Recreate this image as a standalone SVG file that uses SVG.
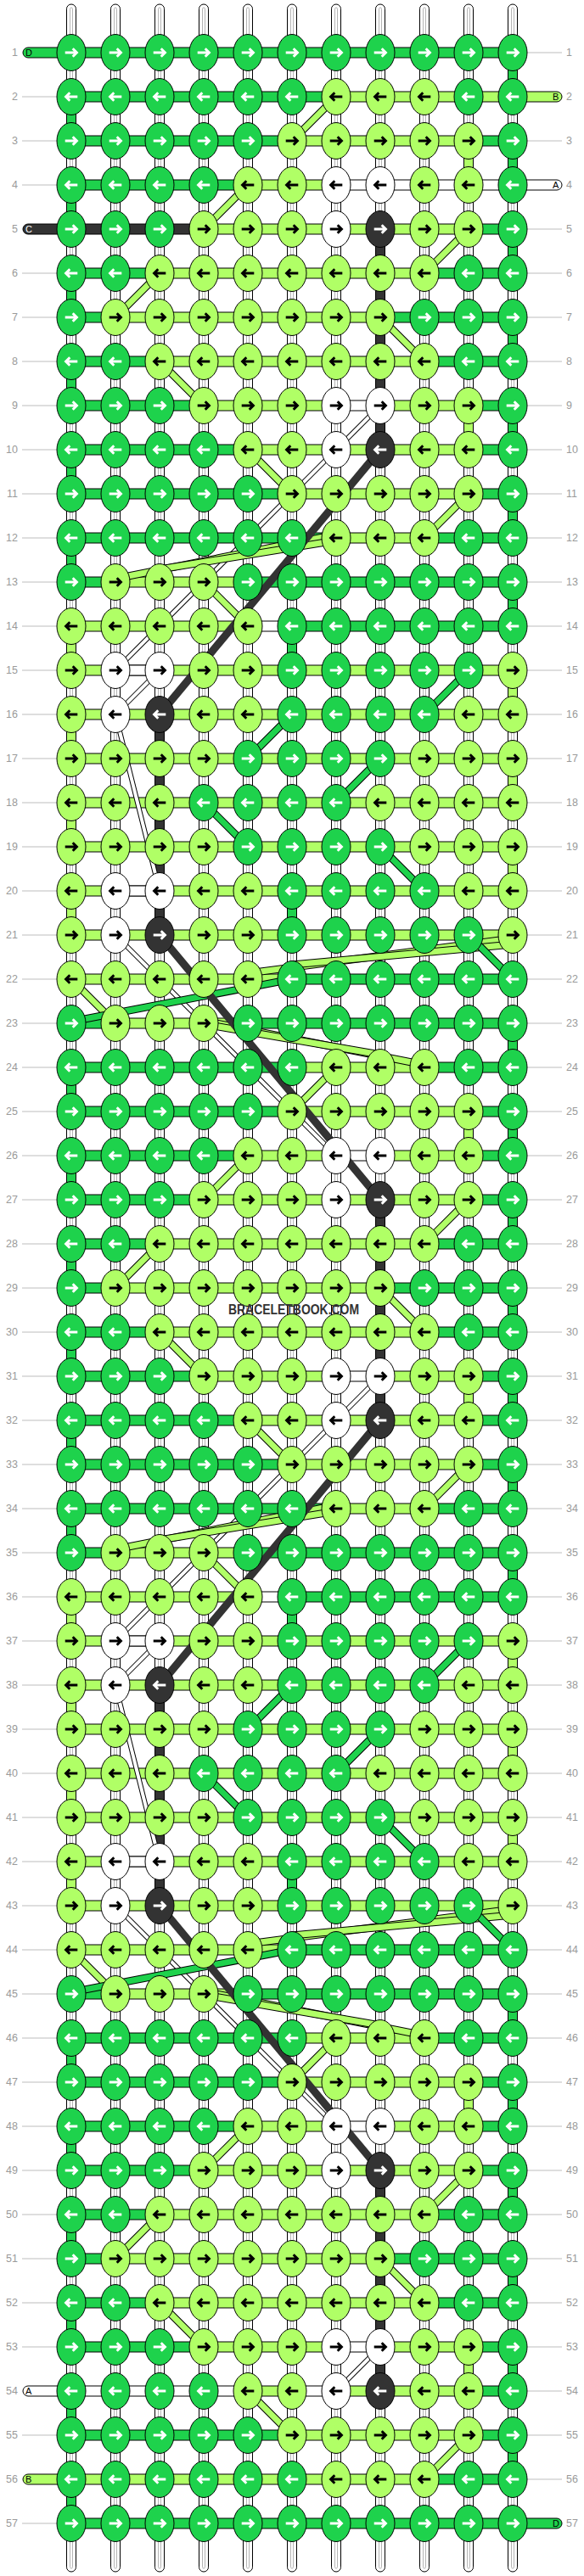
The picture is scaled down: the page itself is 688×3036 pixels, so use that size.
<svg xmlns="http://www.w3.org/2000/svg" width="688" height="3036" viewBox="0 0 688 3036">
<defs>
<style>
.n{font-family:"Liberation Sans",Arial,sans-serif;font-size:12.5px;fill:#9a9a9a}
.e{text-anchor:end}
.lt{font-family:"Liberation Sans",Arial,sans-serif;font-size:11px;fill:#000}
.ln{stroke:#bdbdbd;stroke-width:1;fill:none}
.o{stroke:#000;stroke-width:1}
.D{fill:#1ed24c}.B{fill:#b0ff66}.A{fill:#fff}.C{fill:#333}
.bo{stroke:#000;stroke-width:9;fill:none}
.bB{stroke:#b0ff66;stroke-width:7;fill:none}
.bD{stroke:#1ed24c;stroke-width:7;fill:none}
</style>
<g id="vt"><rect x="-5.5" y="5" width="11" height="3026" rx="5.5" fill="#fff" stroke="#000"/><rect x="-1.5" y="9" width="3" height="3018" rx="1.5" fill="none" stroke="#b4b4b4"/></g>
<g id="DR"><ellipse rx="17" ry="21.5" fill="#1ed24c" stroke="#000"/><path d="M-7.3,0H5.5M1.7,-4.7L6.4,0L1.7,4.7" fill="none" stroke="#fff" stroke-width="3"/></g>
<g id="DL"><ellipse rx="17" ry="21.5" fill="#1ed24c" stroke="#000"/><path d="M7.3,0H-5.5M-1.7,-4.7L-6.4,0L-1.7,4.7" fill="none" stroke="#fff" stroke-width="3"/></g>
<g id="BR"><ellipse rx="17" ry="21.5" fill="#b0ff66" stroke="#000"/><path d="M-7.3,0H5.5M1.7,-4.7L6.4,0L1.7,4.7" fill="none" stroke="#000" stroke-width="3"/></g>
<g id="BL"><ellipse rx="17" ry="21.5" fill="#b0ff66" stroke="#000"/><path d="M7.3,0H-5.5M-1.7,-4.7L-6.4,0L-1.7,4.7" fill="none" stroke="#000" stroke-width="3"/></g>
<g id="AR"><ellipse rx="17" ry="21.5" fill="#fff" stroke="#000"/><path d="M-7.3,0H5.5M1.7,-4.7L6.4,0L1.7,4.7" fill="none" stroke="#000" stroke-width="3"/></g>
<g id="AL"><ellipse rx="17" ry="21.5" fill="#fff" stroke="#000"/><path d="M7.3,0H-5.5M-1.7,-4.7L-6.4,0L-1.7,4.7" fill="none" stroke="#000" stroke-width="3"/></g>
<g id="CR"><ellipse rx="17" ry="21.5" fill="#333" stroke="#000"/><path d="M-7.3,0H5.5M1.7,-4.7L6.4,0L1.7,4.7" fill="none" stroke="#fff" stroke-width="3"/></g>
<g id="CL"><ellipse rx="17" ry="21.5" fill="#333" stroke="#000"/><path d="M7.3,0H-5.5M-1.7,-4.7L-6.4,0L-1.7,4.7" fill="none" stroke="#fff" stroke-width="3"/></g>
</defs>
<rect width="688" height="3036" fill="#fff"/>
<g id="labels">
<path class="ln" d="M26,114H67M26,166H67M26,218H67M26,322H67M26,374H67M26,426H67M26,478H67M26,530H67M26,582H67M26,634H67M26,686H67M26,738H67M26,790H67M26,842H67M26,894H67M26,946H67M26,998H67M26,1050H67M26,1102H67M26,1154H67M26,1206H67M26,1258H67M26,1310H67M26,1362H67M26,1414H67M26,1466H67M26,1518H67M26,1570H67M26,1622H67M26,1674H67M26,1726H67M26,1778H67M26,1830H67M26,1882H67M26,1934H67M26,1986H67M26,2038H67M26,2090H67M26,2142H67M26,2194H67M26,2246H67M26,2298H67M26,2350H67M26,2402H67M26,2454H67M26,2506H67M26,2558H67M26,2610H67M26,2662H67M26,2714H67M26,2766H67M26,2870H67M26,2974H67"/>
<path class="ln" d="M621,62H662M621,166H662M621,270H662M621,322H662M621,374H662M621,426H662M621,478H662M621,530H662M621,582H662M621,634H662M621,686H662M621,738H662M621,790H662M621,842H662M621,894H662M621,946H662M621,998H662M621,1050H662M621,1102H662M621,1154H662M621,1206H662M621,1258H662M621,1310H662M621,1362H662M621,1414H662M621,1466H662M621,1518H662M621,1570H662M621,1622H662M621,1674H662M621,1726H662M621,1778H662M621,1830H662M621,1882H662M621,1934H662M621,1986H662M621,2038H662M621,2090H662M621,2142H662M621,2194H662M621,2246H662M621,2298H662M621,2350H662M621,2402H662M621,2454H662M621,2506H662M621,2558H662M621,2610H662M621,2662H662M621,2714H662M621,2766H662M621,2818H662M621,2870H662M621,2922H662"/>
<text class="n e" x="21" y="66">1</text><text class="n" x="667" y="66">1</text>
<text class="n e" x="21" y="118">2</text><text class="n" x="667" y="118">2</text>
<text class="n e" x="21" y="170">3</text><text class="n" x="667" y="170">3</text>
<text class="n e" x="21" y="222">4</text><text class="n" x="667" y="222">4</text>
<text class="n e" x="21" y="274">5</text><text class="n" x="667" y="274">5</text>
<text class="n e" x="21" y="326">6</text><text class="n" x="667" y="326">6</text>
<text class="n e" x="21" y="378">7</text><text class="n" x="667" y="378">7</text>
<text class="n e" x="21" y="430">8</text><text class="n" x="667" y="430">8</text>
<text class="n e" x="21" y="482">9</text><text class="n" x="667" y="482">9</text>
<text class="n e" x="21" y="534">10</text><text class="n" x="667" y="534">10</text>
<text class="n e" x="21" y="586">11</text><text class="n" x="667" y="586">11</text>
<text class="n e" x="21" y="638">12</text><text class="n" x="667" y="638">12</text>
<text class="n e" x="21" y="690">13</text><text class="n" x="667" y="690">13</text>
<text class="n e" x="21" y="742">14</text><text class="n" x="667" y="742">14</text>
<text class="n e" x="21" y="794">15</text><text class="n" x="667" y="794">15</text>
<text class="n e" x="21" y="846">16</text><text class="n" x="667" y="846">16</text>
<text class="n e" x="21" y="898">17</text><text class="n" x="667" y="898">17</text>
<text class="n e" x="21" y="950">18</text><text class="n" x="667" y="950">18</text>
<text class="n e" x="21" y="1002">19</text><text class="n" x="667" y="1002">19</text>
<text class="n e" x="21" y="1054">20</text><text class="n" x="667" y="1054">20</text>
<text class="n e" x="21" y="1106">21</text><text class="n" x="667" y="1106">21</text>
<text class="n e" x="21" y="1158">22</text><text class="n" x="667" y="1158">22</text>
<text class="n e" x="21" y="1210">23</text><text class="n" x="667" y="1210">23</text>
<text class="n e" x="21" y="1262">24</text><text class="n" x="667" y="1262">24</text>
<text class="n e" x="21" y="1314">25</text><text class="n" x="667" y="1314">25</text>
<text class="n e" x="21" y="1366">26</text><text class="n" x="667" y="1366">26</text>
<text class="n e" x="21" y="1418">27</text><text class="n" x="667" y="1418">27</text>
<text class="n e" x="21" y="1470">28</text><text class="n" x="667" y="1470">28</text>
<text class="n e" x="21" y="1522">29</text><text class="n" x="667" y="1522">29</text>
<text class="n e" x="21" y="1574">30</text><text class="n" x="667" y="1574">30</text>
<text class="n e" x="21" y="1626">31</text><text class="n" x="667" y="1626">31</text>
<text class="n e" x="21" y="1678">32</text><text class="n" x="667" y="1678">32</text>
<text class="n e" x="21" y="1730">33</text><text class="n" x="667" y="1730">33</text>
<text class="n e" x="21" y="1782">34</text><text class="n" x="667" y="1782">34</text>
<text class="n e" x="21" y="1834">35</text><text class="n" x="667" y="1834">35</text>
<text class="n e" x="21" y="1886">36</text><text class="n" x="667" y="1886">36</text>
<text class="n e" x="21" y="1938">37</text><text class="n" x="667" y="1938">37</text>
<text class="n e" x="21" y="1990">38</text><text class="n" x="667" y="1990">38</text>
<text class="n e" x="21" y="2042">39</text><text class="n" x="667" y="2042">39</text>
<text class="n e" x="21" y="2094">40</text><text class="n" x="667" y="2094">40</text>
<text class="n e" x="21" y="2146">41</text><text class="n" x="667" y="2146">41</text>
<text class="n e" x="21" y="2198">42</text><text class="n" x="667" y="2198">42</text>
<text class="n e" x="21" y="2250">43</text><text class="n" x="667" y="2250">43</text>
<text class="n e" x="21" y="2302">44</text><text class="n" x="667" y="2302">44</text>
<text class="n e" x="21" y="2354">45</text><text class="n" x="667" y="2354">45</text>
<text class="n e" x="21" y="2406">46</text><text class="n" x="667" y="2406">46</text>
<text class="n e" x="21" y="2458">47</text><text class="n" x="667" y="2458">47</text>
<text class="n e" x="21" y="2510">48</text><text class="n" x="667" y="2510">48</text>
<text class="n e" x="21" y="2562">49</text><text class="n" x="667" y="2562">49</text>
<text class="n e" x="21" y="2614">50</text><text class="n" x="667" y="2614">50</text>
<text class="n e" x="21" y="2666">51</text><text class="n" x="667" y="2666">51</text>
<text class="n e" x="21" y="2718">52</text><text class="n" x="667" y="2718">52</text>
<text class="n e" x="21" y="2770">53</text><text class="n" x="667" y="2770">53</text>
<text class="n e" x="21" y="2822">54</text><text class="n" x="667" y="2822">54</text>
<text class="n e" x="21" y="2874">55</text><text class="n" x="667" y="2874">55</text>
<text class="n e" x="21" y="2926">56</text><text class="n" x="667" y="2926">56</text>
<text class="n e" x="21" y="2978">57</text><text class="n" x="667" y="2978">57</text>
</g>
<g id="connectors">
<g id="vertical-threads">
<use href="#vt" x="84"/><use href="#vt" x="136"/><use href="#vt" x="188"/><use href="#vt" x="240"/><use href="#vt" x="292"/><use href="#vt" x="344"/><use href="#vt" x="396"/><use href="#vt" x="448"/><use href="#vt" x="500"/><use href="#vt" x="552"/><use href="#vt" x="604"/>
</g>
<g id="row-threads" class="o">
<rect class="D" x="27" y="56" width="577" height="12" rx="6"/>
<rect class="D" x="84" y="108" width="312" height="12"/><rect class="B" x="396" y="108" width="266" height="12" rx="6"/>
<rect class="D" x="84" y="160" width="260" height="12"/><rect class="B" x="344" y="160" width="208" height="12"/><rect class="D" x="552" y="160" width="52" height="12"/>
<rect class="D" x="84" y="212" width="208" height="12"/><rect class="B" x="292" y="212" width="104" height="12"/><rect class="A" x="396" y="212" width="266" height="12" rx="6"/>
<rect class="C" x="27" y="264" width="213" height="12" rx="6"/><rect class="B" x="240" y="264" width="312" height="12"/><rect class="D" x="552" y="264" width="52" height="12"/>
<rect class="D" x="84" y="316" width="104" height="12"/><rect class="B" x="188" y="316" width="312" height="12"/><rect class="D" x="500" y="316" width="104" height="12"/>
<rect class="D" x="84" y="368" width="52" height="12"/><rect class="B" x="136" y="368" width="312" height="12"/><rect class="D" x="448" y="368" width="156" height="12"/>
<rect class="D" x="84" y="420" width="104" height="12"/><rect class="B" x="188" y="420" width="312" height="12"/><rect class="D" x="500" y="420" width="104" height="12"/>
<rect class="D" x="84" y="472" width="156" height="12"/><rect class="B" x="240" y="472" width="156" height="12"/><rect class="A" x="396" y="472" width="52" height="12"/><rect class="B" x="448" y="472" width="104" height="12"/><rect class="D" x="552" y="472" width="52" height="12"/>
<rect class="D" x="84" y="524" width="208" height="12"/><rect class="B" x="292" y="524" width="260" height="12"/><rect class="D" x="552" y="524" width="52" height="12"/>
<rect class="D" x="84" y="576" width="260" height="12"/><rect class="B" x="344" y="576" width="208" height="12"/><rect class="D" x="552" y="576" width="52" height="12"/>
<rect class="D" x="84" y="628" width="312" height="12"/><rect class="B" x="396" y="628" width="104" height="12"/><rect class="D" x="500" y="628" width="104" height="12"/>
<rect class="D" x="84" y="680" width="52" height="12"/><rect class="B" x="136" y="680" width="156" height="12"/><rect class="D" x="292" y="680" width="312" height="12"/>
<rect class="B" x="84" y="732" width="208" height="12"/><rect class="A" x="292" y="732" width="52" height="12"/><rect class="D" x="344" y="732" width="260" height="12"/>
<rect class="B" x="84" y="784" width="520" height="12"/><rect class="A" x="136" y="784" width="52" height="12"/>
<rect class="B" x="84" y="836" width="520" height="12"/>
<rect class="B" x="84" y="888" width="520" height="12"/>
<rect class="B" x="84" y="940" width="520" height="12"/>
<rect class="B" x="84" y="992" width="520" height="12"/>
<rect class="B" x="84" y="1044" width="520" height="12"/><rect class="A" x="136" y="1044" width="52" height="12"/>
<rect class="B" x="84" y="1096" width="520" height="12"/>
<rect class="B" x="84" y="1148" width="260" height="12"/><rect class="D" x="344" y="1148" width="260" height="12"/>
<rect class="D" x="84" y="1200" width="52" height="12"/><rect class="B" x="136" y="1200" width="156" height="12"/><rect class="D" x="292" y="1200" width="312" height="12"/>
<rect class="D" x="84" y="1252" width="260" height="12"/><rect class="B" x="344" y="1252" width="156" height="12"/><rect class="D" x="500" y="1252" width="104" height="12"/>
<rect class="D" x="84" y="1304" width="260" height="12"/><rect class="B" x="344" y="1304" width="208" height="12"/><rect class="D" x="552" y="1304" width="52" height="12"/>
<rect class="D" x="84" y="1356" width="208" height="12"/><rect class="B" x="292" y="1356" width="104" height="12"/><rect class="A" x="396" y="1356" width="52" height="12"/><rect class="B" x="448" y="1356" width="104" height="12"/><rect class="D" x="552" y="1356" width="52" height="12"/>
<rect class="D" x="84" y="1408" width="156" height="12"/><rect class="B" x="240" y="1408" width="312" height="12"/><rect class="D" x="552" y="1408" width="52" height="12"/>
<rect class="D" x="84" y="1460" width="104" height="12"/><rect class="B" x="188" y="1460" width="312" height="12"/><rect class="D" x="500" y="1460" width="104" height="12"/>
<rect class="D" x="84" y="1512" width="52" height="12"/><rect class="B" x="136" y="1512" width="312" height="12"/><rect class="D" x="448" y="1512" width="156" height="12"/>
<rect class="D" x="84" y="1564" width="104" height="12"/><rect class="B" x="188" y="1564" width="312" height="12"/><rect class="D" x="500" y="1564" width="104" height="12"/>
<rect class="D" x="84" y="1616" width="156" height="12"/><rect class="B" x="240" y="1616" width="156" height="12"/><rect class="A" x="396" y="1616" width="52" height="12"/><rect class="B" x="448" y="1616" width="104" height="12"/><rect class="D" x="552" y="1616" width="52" height="12"/>
<rect class="D" x="84" y="1668" width="208" height="12"/><rect class="B" x="292" y="1668" width="260" height="12"/><rect class="D" x="552" y="1668" width="52" height="12"/>
<rect class="D" x="84" y="1720" width="260" height="12"/><rect class="B" x="344" y="1720" width="208" height="12"/><rect class="D" x="552" y="1720" width="52" height="12"/>
<rect class="D" x="84" y="1772" width="312" height="12"/><rect class="B" x="396" y="1772" width="104" height="12"/><rect class="D" x="500" y="1772" width="104" height="12"/>
<rect class="D" x="84" y="1824" width="52" height="12"/><rect class="B" x="136" y="1824" width="156" height="12"/><rect class="D" x="292" y="1824" width="312" height="12"/>
<rect class="B" x="84" y="1876" width="208" height="12"/><rect class="A" x="292" y="1876" width="52" height="12"/><rect class="D" x="344" y="1876" width="260" height="12"/>
<rect class="B" x="84" y="1928" width="520" height="12"/><rect class="A" x="136" y="1928" width="52" height="12"/>
<rect class="B" x="84" y="1980" width="520" height="12"/>
<rect class="B" x="84" y="2032" width="520" height="12"/>
<rect class="B" x="84" y="2084" width="520" height="12"/>
<rect class="B" x="84" y="2136" width="520" height="12"/>
<rect class="B" x="84" y="2188" width="520" height="12"/><rect class="A" x="136" y="2188" width="52" height="12"/>
<rect class="B" x="84" y="2240" width="520" height="12"/>
<rect class="B" x="84" y="2292" width="260" height="12"/><rect class="D" x="344" y="2292" width="260" height="12"/>
<rect class="D" x="84" y="2344" width="52" height="12"/><rect class="B" x="136" y="2344" width="156" height="12"/><rect class="D" x="292" y="2344" width="312" height="12"/>
<rect class="D" x="84" y="2396" width="260" height="12"/><rect class="B" x="344" y="2396" width="156" height="12"/><rect class="D" x="500" y="2396" width="104" height="12"/>
<rect class="D" x="84" y="2448" width="260" height="12"/><rect class="B" x="344" y="2448" width="208" height="12"/><rect class="D" x="552" y="2448" width="52" height="12"/>
<rect class="D" x="84" y="2500" width="208" height="12"/><rect class="B" x="292" y="2500" width="104" height="12"/><rect class="A" x="396" y="2500" width="52" height="12"/><rect class="B" x="448" y="2500" width="104" height="12"/><rect class="D" x="552" y="2500" width="52" height="12"/>
<rect class="D" x="84" y="2552" width="156" height="12"/><rect class="B" x="240" y="2552" width="312" height="12"/><rect class="D" x="552" y="2552" width="52" height="12"/>
<rect class="D" x="84" y="2604" width="104" height="12"/><rect class="B" x="188" y="2604" width="312" height="12"/><rect class="D" x="500" y="2604" width="104" height="12"/>
<rect class="D" x="84" y="2656" width="52" height="12"/><rect class="B" x="136" y="2656" width="312" height="12"/><rect class="D" x="448" y="2656" width="156" height="12"/>
<rect class="D" x="84" y="2708" width="104" height="12"/><rect class="B" x="188" y="2708" width="312" height="12"/><rect class="D" x="500" y="2708" width="104" height="12"/>
<rect class="D" x="84" y="2760" width="156" height="12"/><rect class="B" x="240" y="2760" width="156" height="12"/><rect class="A" x="396" y="2760" width="52" height="12"/><rect class="B" x="448" y="2760" width="104" height="12"/><rect class="D" x="552" y="2760" width="52" height="12"/>
<rect class="A" x="27" y="2812" width="265" height="12" rx="6"/><rect class="B" x="292" y="2812" width="52" height="12"/><rect class="A" x="344" y="2812" width="52" height="12"/><rect class="B" x="396" y="2812" width="156" height="12"/><rect class="D" x="552" y="2812" width="52" height="12"/>
<rect class="D" x="84" y="2864" width="260" height="12"/><rect class="B" x="344" y="2864" width="208" height="12"/><rect class="D" x="552" y="2864" width="52" height="12"/>
<rect class="B" x="27" y="2916" width="473" height="12" rx="6"/><rect class="D" x="500" y="2916" width="104" height="12"/>
<rect class="D" x="84" y="2968" width="578" height="12" rx="6"/>
</g>
<g id="stub-letters">
<text class="lt" x="30" y="66">D</text>
<text class="lt" x="651" y="118">B</text>
<text class="lt" x="651" y="222">A</text>
<text class="lt" x="30" y="274" style="fill:#fff">C</text>
<text class="lt" x="30" y="2822">A</text>
<text class="lt" x="30" y="2926">B</text>
<text class="lt" x="651" y="2978">D</text>
</g>
<g id="turns" class="o">
<path class="D" d="M598.5,62h11v52h-11zM598.5,166h11v52h-11zM598.5,270h11v52h-11zM598.5,374h11v52h-11zM598.5,478h11v52h-11zM598.5,582h11v52h-11zM598.5,686h11v52h-11zM598.5,1206h11v52h-11zM598.5,1310h11v52h-11zM598.5,1414h11v52h-11zM598.5,1518h11v52h-11zM598.5,1622h11v52h-11zM598.5,1726h11v52h-11zM598.5,1830h11v52h-11zM598.5,2350h11v52h-11zM598.5,2454h11v52h-11zM598.5,2558h11v52h-11zM598.5,2662h11v52h-11zM598.5,2766h11v52h-11zM598.5,2870h11v52h-11z"/>
<path class="D" d="M78.5,114h11v52h-11zM78.5,218h11v52h-11zM78.5,322h11v52h-11zM78.5,426h11v52h-11zM78.5,530h11v52h-11zM78.5,634h11v52h-11zM78.5,1258h11v52h-11zM78.5,1362h11v52h-11zM78.5,1466h11v52h-11zM78.5,1570h11v52h-11zM78.5,1674h11v52h-11zM78.5,1778h11v52h-11zM78.5,2402h11v52h-11zM78.5,2506h11v52h-11zM78.5,2610h11v52h-11zM78.5,2714h11v52h-11zM78.5,2818h11v52h-11zM78.5,2922h11v52h-11z"/>
<path class="D" d="M338.5,738h11v52h-11zM338.5,1050h11v52h-11zM338.5,1882h11v52h-11zM338.5,2194h11v52h-11z"/>
<path class="B" d="M78.5,738h11v52h-11zM78.5,842h11v52h-11zM78.5,946h11v52h-11zM78.5,1050h11v52h-11zM78.5,1882h11v52h-11zM78.5,1986h11v52h-11zM78.5,2090h11v52h-11zM78.5,2194h11v52h-11z"/>
<path class="B" d="M598.5,790h11v52h-11zM598.5,894h11v52h-11zM598.5,998h11v52h-11zM598.5,1934h11v52h-11zM598.5,2038h11v52h-11zM598.5,2142h11v52h-11z"/>
<path class="B" d="M546.5,166h11v52h-11zM546.5,478h11v52h-11zM546.5,1310h11v52h-11zM546.5,1622h11v52h-11zM546.5,2454h11v52h-11zM546.5,2766h11v52h-11z"/>
<path class="C" d="M442.5,270h11v260h-11zM442.5,1414h11v260h-11zM442.5,2558h11v260h-11zM182.5,842h11v260h-11zM182.5,1986h11v260h-11z"/>
</g>
<g id="diagonals" fill="none">
<path stroke="#000" stroke-width="6" d="M448,478L396,530M396,530L136,790M188,790L136,842M136,842L188,1050M136,1102L396,1362M448,1622L396,1674M396,1674L136,1934M188,1934L136,1986M136,1986L188,2194M136,2246L396,2506M448,2766L396,2818"/>
<path stroke="#fff" stroke-width="4" d="M448,478L396,530M396,530L136,790M188,790L136,842M136,842L188,1050M136,1102L396,1362M448,1622L396,1674M396,1674L136,1934M188,1934L136,1986M136,1986L188,2194M136,2246L396,2506M448,2766L396,2818"/>
<path class="bo" d="M396,114L344,166M292,218L240,270M552,270L500,322M188,322L136,374M448,374L500,426M188,426L240,478M292,530L344,582M552,582L500,634M396,1258L344,1310M292,1362L240,1414M552,1414L500,1466M188,1466L136,1518M448,1518L500,1570M188,1570L240,1622M292,1674L344,1726M552,1726L500,1778M396,2402L344,2454M292,2506L240,2558M552,2558L500,2610M188,2610L136,2662M448,2662L500,2714M188,2714L240,2766M292,2818L344,2870M552,2870L500,2922M240,686L292,738M84,1154L136,1206M240,1830L292,1882M84,2298L136,2350"/>
<path class="bB" d="M396,114L344,166M292,218L240,270M552,270L500,322M188,322L136,374M448,374L500,426M188,426L240,478M292,530L344,582M552,582L500,634M396,1258L344,1310M292,1362L240,1414M552,1414L500,1466M188,1466L136,1518M448,1518L500,1570M188,1570L240,1622M292,1674L344,1726M552,1726L500,1778M396,2402L344,2454M292,2506L240,2558M552,2558L500,2610M188,2610L136,2662M448,2662L500,2714M188,2714L240,2766M292,2818L344,2870M552,2870L500,2922M240,686L292,738M84,1154L136,1206M240,1830L292,1882M84,2298L136,2350"/>
<path class="bo" d="M396,630L136,682M396,1774L136,1826"/><path class="bB" d="M396,630L136,682M396,1774L136,1826"/>
<path class="bo" d="M396,637L188,671M396,1781L188,1815"/><path class="bB" d="M396,637L188,671M396,1781L188,1815"/>
<path class="bo" d="M604,1106L292,1147M604,2250L292,2291"/><path class="bB" d="M604,1106L292,1147M604,2250L292,2291"/>
<path class="bo" d="M604,1113L344,1137M604,2257L344,2281"/><path class="bB" d="M604,1113L344,1137M604,2257L344,2281"/>
<path class="bo" d="M240,1203L500,1255M240,2347L500,2399"/><path class="bB" d="M240,1203L500,1255M240,2347L500,2399"/>
<path class="bo" d="M240,1207L448,1243M240,2351L448,2387"/><path class="bB" d="M240,1207L448,1243M240,2351L448,2387"/>
<path class="bo" d="M552,790L500,842M344,842L292,894M448,894L396,946M240,946L292,998M448,998L500,1050M552,1102L604,1154M552,1934L500,1986M344,1986L292,2038M448,2038L396,2090M240,2090L292,2142M448,2142L500,2194M552,2246L604,2298"/>
<path class="bD" d="M552,790L500,842M344,842L292,894M448,894L396,946M240,946L292,998M448,998L500,1050M552,1102L604,1154M552,1934L500,1986M344,1986L292,2038M448,2038L396,2090M240,2090L292,2142M448,2142L500,2194M552,2246L604,2298"/>
<path class="bo" d="M344,1154L84,1204M344,2298L84,2348"/><path class="bD" d="M344,1154L84,1204M344,2298L84,2348"/>
<path stroke="#333" stroke-width="9" d="M448,530L188,842M188,1102L448,1414M448,1674L188,1986M188,2246L448,2558"/>
</g>
</g>
<g id="knots">
<g id="row1" transform="translate(0,62)"><use id="k1-1" href="#DR" x="84"/><use id="k1-2" href="#DR" x="136"/><use id="k1-3" href="#DR" x="188"/><use id="k1-4" href="#DR" x="240"/><use id="k1-5" href="#DR" x="292"/><use id="k1-6" href="#DR" x="344"/><use id="k1-7" href="#DR" x="396"/><use id="k1-8" href="#DR" x="448"/><use id="k1-9" href="#DR" x="500"/><use id="k1-10" href="#DR" x="552"/><use id="k1-11" href="#DR" x="604"/></g>
<g id="row2" transform="translate(0,114)"><use id="k2-1" href="#DL" x="84"/><use id="k2-2" href="#DL" x="136"/><use id="k2-3" href="#DL" x="188"/><use id="k2-4" href="#DL" x="240"/><use id="k2-5" href="#DL" x="292"/><use id="k2-6" href="#DL" x="344"/><use id="k2-7" href="#BL" x="396"/><use id="k2-8" href="#BL" x="448"/><use id="k2-9" href="#BL" x="500"/><use id="k2-10" href="#DL" x="552"/><use id="k2-11" href="#DL" x="604"/></g>
<g id="row3" transform="translate(0,166)"><use id="k3-1" href="#DR" x="84"/><use id="k3-2" href="#DR" x="136"/><use id="k3-3" href="#DR" x="188"/><use id="k3-4" href="#DR" x="240"/><use id="k3-5" href="#DR" x="292"/><use id="k3-6" href="#BR" x="344"/><use id="k3-7" href="#BR" x="396"/><use id="k3-8" href="#BR" x="448"/><use id="k3-9" href="#BR" x="500"/><use id="k3-10" href="#BR" x="552"/><use id="k3-11" href="#DR" x="604"/></g>
<g id="row4" transform="translate(0,218)"><use id="k4-1" href="#DL" x="84"/><use id="k4-2" href="#DL" x="136"/><use id="k4-3" href="#DL" x="188"/><use id="k4-4" href="#DL" x="240"/><use id="k4-5" href="#BL" x="292"/><use id="k4-6" href="#BL" x="344"/><use id="k4-7" href="#AL" x="396"/><use id="k4-8" href="#AL" x="448"/><use id="k4-9" href="#BL" x="500"/><use id="k4-10" href="#BL" x="552"/><use id="k4-11" href="#DL" x="604"/></g>
<g id="row5" transform="translate(0,270)"><use id="k5-1" href="#DR" x="84"/><use id="k5-2" href="#DR" x="136"/><use id="k5-3" href="#DR" x="188"/><use id="k5-4" href="#BR" x="240"/><use id="k5-5" href="#BR" x="292"/><use id="k5-6" href="#BR" x="344"/><use id="k5-7" href="#AR" x="396"/><use id="k5-8" href="#CR" x="448"/><use id="k5-9" href="#BR" x="500"/><use id="k5-10" href="#BR" x="552"/><use id="k5-11" href="#DR" x="604"/></g>
<g id="row6" transform="translate(0,322)"><use id="k6-1" href="#DL" x="84"/><use id="k6-2" href="#DL" x="136"/><use id="k6-3" href="#BL" x="188"/><use id="k6-4" href="#BL" x="240"/><use id="k6-5" href="#BL" x="292"/><use id="k6-6" href="#BL" x="344"/><use id="k6-7" href="#BL" x="396"/><use id="k6-8" href="#BL" x="448"/><use id="k6-9" href="#BL" x="500"/><use id="k6-10" href="#DL" x="552"/><use id="k6-11" href="#DL" x="604"/></g>
<g id="row7" transform="translate(0,374)"><use id="k7-1" href="#DR" x="84"/><use id="k7-2" href="#BR" x="136"/><use id="k7-3" href="#BR" x="188"/><use id="k7-4" href="#BR" x="240"/><use id="k7-5" href="#BR" x="292"/><use id="k7-6" href="#BR" x="344"/><use id="k7-7" href="#BR" x="396"/><use id="k7-8" href="#BR" x="448"/><use id="k7-9" href="#DR" x="500"/><use id="k7-10" href="#DR" x="552"/><use id="k7-11" href="#DR" x="604"/></g>
<g id="row8" transform="translate(0,426)"><use id="k8-1" href="#DL" x="84"/><use id="k8-2" href="#DL" x="136"/><use id="k8-3" href="#BL" x="188"/><use id="k8-4" href="#BL" x="240"/><use id="k8-5" href="#BL" x="292"/><use id="k8-6" href="#BL" x="344"/><use id="k8-7" href="#BL" x="396"/><use id="k8-8" href="#BL" x="448"/><use id="k8-9" href="#BL" x="500"/><use id="k8-10" href="#DL" x="552"/><use id="k8-11" href="#DL" x="604"/></g>
<g id="row9" transform="translate(0,478)"><use id="k9-1" href="#DR" x="84"/><use id="k9-2" href="#DR" x="136"/><use id="k9-3" href="#DR" x="188"/><use id="k9-4" href="#BR" x="240"/><use id="k9-5" href="#BR" x="292"/><use id="k9-6" href="#BR" x="344"/><use id="k9-7" href="#AR" x="396"/><use id="k9-8" href="#AR" x="448"/><use id="k9-9" href="#BR" x="500"/><use id="k9-10" href="#BR" x="552"/><use id="k9-11" href="#DR" x="604"/></g>
<g id="row10" transform="translate(0,530)"><use id="k10-1" href="#DL" x="84"/><use id="k10-2" href="#DL" x="136"/><use id="k10-3" href="#DL" x="188"/><use id="k10-4" href="#DL" x="240"/><use id="k10-5" href="#BL" x="292"/><use id="k10-6" href="#BL" x="344"/><use id="k10-7" href="#AL" x="396"/><use id="k10-8" href="#CL" x="448"/><use id="k10-9" href="#BL" x="500"/><use id="k10-10" href="#BL" x="552"/><use id="k10-11" href="#DL" x="604"/></g>
<g id="row11" transform="translate(0,582)"><use id="k11-1" href="#DR" x="84"/><use id="k11-2" href="#DR" x="136"/><use id="k11-3" href="#DR" x="188"/><use id="k11-4" href="#DR" x="240"/><use id="k11-5" href="#DR" x="292"/><use id="k11-6" href="#BR" x="344"/><use id="k11-7" href="#BR" x="396"/><use id="k11-8" href="#BR" x="448"/><use id="k11-9" href="#BR" x="500"/><use id="k11-10" href="#BR" x="552"/><use id="k11-11" href="#DR" x="604"/></g>
<g id="row12" transform="translate(0,634)"><use id="k12-1" href="#DL" x="84"/><use id="k12-2" href="#DL" x="136"/><use id="k12-3" href="#DL" x="188"/><use id="k12-4" href="#DL" x="240"/><use id="k12-5" href="#DL" x="292"/><use id="k12-6" href="#DL" x="344"/><use id="k12-7" href="#BL" x="396"/><use id="k12-8" href="#BL" x="448"/><use id="k12-9" href="#BL" x="500"/><use id="k12-10" href="#DL" x="552"/><use id="k12-11" href="#DL" x="604"/></g>
<g id="row13" transform="translate(0,686)"><use id="k13-1" href="#DR" x="84"/><use id="k13-2" href="#BR" x="136"/><use id="k13-3" href="#BR" x="188"/><use id="k13-4" href="#BR" x="240"/><use id="k13-5" href="#DR" x="292"/><use id="k13-6" href="#DR" x="344"/><use id="k13-7" href="#DR" x="396"/><use id="k13-8" href="#DR" x="448"/><use id="k13-9" href="#DR" x="500"/><use id="k13-10" href="#DR" x="552"/><use id="k13-11" href="#DR" x="604"/></g>
<g id="row14" transform="translate(0,738)"><use id="k14-1" href="#BL" x="84"/><use id="k14-2" href="#BL" x="136"/><use id="k14-3" href="#BL" x="188"/><use id="k14-4" href="#BL" x="240"/><use id="k14-5" href="#BL" x="292"/><use id="k14-6" href="#DL" x="344"/><use id="k14-7" href="#DL" x="396"/><use id="k14-8" href="#DL" x="448"/><use id="k14-9" href="#DL" x="500"/><use id="k14-10" href="#DL" x="552"/><use id="k14-11" href="#DL" x="604"/></g>
<g id="row15" transform="translate(0,790)"><use id="k15-1" href="#BR" x="84"/><use id="k15-2" href="#AR" x="136"/><use id="k15-3" href="#AR" x="188"/><use id="k15-4" href="#BR" x="240"/><use id="k15-5" href="#BR" x="292"/><use id="k15-6" href="#DR" x="344"/><use id="k15-7" href="#DR" x="396"/><use id="k15-8" href="#DR" x="448"/><use id="k15-9" href="#DR" x="500"/><use id="k15-10" href="#DR" x="552"/><use id="k15-11" href="#BR" x="604"/></g>
<g id="row16" transform="translate(0,842)"><use id="k16-1" href="#BL" x="84"/><use id="k16-2" href="#AL" x="136"/><use id="k16-3" href="#CL" x="188"/><use id="k16-4" href="#BL" x="240"/><use id="k16-5" href="#BL" x="292"/><use id="k16-6" href="#DL" x="344"/><use id="k16-7" href="#DL" x="396"/><use id="k16-8" href="#DL" x="448"/><use id="k16-9" href="#DL" x="500"/><use id="k16-10" href="#BL" x="552"/><use id="k16-11" href="#BL" x="604"/></g>
<g id="row17" transform="translate(0,894)"><use id="k17-1" href="#BR" x="84"/><use id="k17-2" href="#BR" x="136"/><use id="k17-3" href="#BR" x="188"/><use id="k17-4" href="#BR" x="240"/><use id="k17-5" href="#DR" x="292"/><use id="k17-6" href="#DR" x="344"/><use id="k17-7" href="#DR" x="396"/><use id="k17-8" href="#DR" x="448"/><use id="k17-9" href="#BR" x="500"/><use id="k17-10" href="#BR" x="552"/><use id="k17-11" href="#BR" x="604"/></g>
<g id="row18" transform="translate(0,946)"><use id="k18-1" href="#BL" x="84"/><use id="k18-2" href="#BL" x="136"/><use id="k18-3" href="#BL" x="188"/><use id="k18-4" href="#DL" x="240"/><use id="k18-5" href="#DL" x="292"/><use id="k18-6" href="#DL" x="344"/><use id="k18-7" href="#DL" x="396"/><use id="k18-8" href="#BL" x="448"/><use id="k18-9" href="#BL" x="500"/><use id="k18-10" href="#BL" x="552"/><use id="k18-11" href="#BL" x="604"/></g>
<g id="row19" transform="translate(0,998)"><use id="k19-1" href="#BR" x="84"/><use id="k19-2" href="#BR" x="136"/><use id="k19-3" href="#BR" x="188"/><use id="k19-4" href="#BR" x="240"/><use id="k19-5" href="#DR" x="292"/><use id="k19-6" href="#DR" x="344"/><use id="k19-7" href="#DR" x="396"/><use id="k19-8" href="#DR" x="448"/><use id="k19-9" href="#BR" x="500"/><use id="k19-10" href="#BR" x="552"/><use id="k19-11" href="#BR" x="604"/></g>
<g id="row20" transform="translate(0,1050)"><use id="k20-1" href="#BL" x="84"/><use id="k20-2" href="#AL" x="136"/><use id="k20-3" href="#AL" x="188"/><use id="k20-4" href="#BL" x="240"/><use id="k20-5" href="#BL" x="292"/><use id="k20-6" href="#DL" x="344"/><use id="k20-7" href="#DL" x="396"/><use id="k20-8" href="#DL" x="448"/><use id="k20-9" href="#DL" x="500"/><use id="k20-10" href="#BL" x="552"/><use id="k20-11" href="#BL" x="604"/></g>
<g id="row21" transform="translate(0,1102)"><use id="k21-1" href="#BR" x="84"/><use id="k21-2" href="#AR" x="136"/><use id="k21-3" href="#CR" x="188"/><use id="k21-4" href="#BR" x="240"/><use id="k21-5" href="#BR" x="292"/><use id="k21-6" href="#DR" x="344"/><use id="k21-7" href="#DR" x="396"/><use id="k21-8" href="#DR" x="448"/><use id="k21-9" href="#DR" x="500"/><use id="k21-10" href="#DR" x="552"/><use id="k21-11" href="#BR" x="604"/></g>
<g id="row22" transform="translate(0,1154)"><use id="k22-1" href="#BL" x="84"/><use id="k22-2" href="#BL" x="136"/><use id="k22-3" href="#BL" x="188"/><use id="k22-4" href="#BL" x="240"/><use id="k22-5" href="#BL" x="292"/><use id="k22-6" href="#DL" x="344"/><use id="k22-7" href="#DL" x="396"/><use id="k22-8" href="#DL" x="448"/><use id="k22-9" href="#DL" x="500"/><use id="k22-10" href="#DL" x="552"/><use id="k22-11" href="#DL" x="604"/></g>
<g id="row23" transform="translate(0,1206)"><use id="k23-1" href="#DR" x="84"/><use id="k23-2" href="#BR" x="136"/><use id="k23-3" href="#BR" x="188"/><use id="k23-4" href="#BR" x="240"/><use id="k23-5" href="#DR" x="292"/><use id="k23-6" href="#DR" x="344"/><use id="k23-7" href="#DR" x="396"/><use id="k23-8" href="#DR" x="448"/><use id="k23-9" href="#DR" x="500"/><use id="k23-10" href="#DR" x="552"/><use id="k23-11" href="#DR" x="604"/></g>
<g id="row24" transform="translate(0,1258)"><use id="k24-1" href="#DL" x="84"/><use id="k24-2" href="#DL" x="136"/><use id="k24-3" href="#DL" x="188"/><use id="k24-4" href="#DL" x="240"/><use id="k24-5" href="#DL" x="292"/><use id="k24-6" href="#DL" x="344"/><use id="k24-7" href="#BL" x="396"/><use id="k24-8" href="#BL" x="448"/><use id="k24-9" href="#BL" x="500"/><use id="k24-10" href="#DL" x="552"/><use id="k24-11" href="#DL" x="604"/></g>
<g id="row25" transform="translate(0,1310)"><use id="k25-1" href="#DR" x="84"/><use id="k25-2" href="#DR" x="136"/><use id="k25-3" href="#DR" x="188"/><use id="k25-4" href="#DR" x="240"/><use id="k25-5" href="#DR" x="292"/><use id="k25-6" href="#BR" x="344"/><use id="k25-7" href="#BR" x="396"/><use id="k25-8" href="#BR" x="448"/><use id="k25-9" href="#BR" x="500"/><use id="k25-10" href="#BR" x="552"/><use id="k25-11" href="#DR" x="604"/></g>
<g id="row26" transform="translate(0,1362)"><use id="k26-1" href="#DL" x="84"/><use id="k26-2" href="#DL" x="136"/><use id="k26-3" href="#DL" x="188"/><use id="k26-4" href="#DL" x="240"/><use id="k26-5" href="#BL" x="292"/><use id="k26-6" href="#BL" x="344"/><use id="k26-7" href="#AL" x="396"/><use id="k26-8" href="#AL" x="448"/><use id="k26-9" href="#BL" x="500"/><use id="k26-10" href="#BL" x="552"/><use id="k26-11" href="#DL" x="604"/></g>
<g id="row27" transform="translate(0,1414)"><use id="k27-1" href="#DR" x="84"/><use id="k27-2" href="#DR" x="136"/><use id="k27-3" href="#DR" x="188"/><use id="k27-4" href="#BR" x="240"/><use id="k27-5" href="#BR" x="292"/><use id="k27-6" href="#BR" x="344"/><use id="k27-7" href="#AR" x="396"/><use id="k27-8" href="#CR" x="448"/><use id="k27-9" href="#BR" x="500"/><use id="k27-10" href="#BR" x="552"/><use id="k27-11" href="#DR" x="604"/></g>
<g id="row28" transform="translate(0,1466)"><use id="k28-1" href="#DL" x="84"/><use id="k28-2" href="#DL" x="136"/><use id="k28-3" href="#BL" x="188"/><use id="k28-4" href="#BL" x="240"/><use id="k28-5" href="#BL" x="292"/><use id="k28-6" href="#BL" x="344"/><use id="k28-7" href="#BL" x="396"/><use id="k28-8" href="#BL" x="448"/><use id="k28-9" href="#BL" x="500"/><use id="k28-10" href="#DL" x="552"/><use id="k28-11" href="#DL" x="604"/></g>
<g id="row29" transform="translate(0,1518)"><use id="k29-1" href="#DR" x="84"/><use id="k29-2" href="#BR" x="136"/><use id="k29-3" href="#BR" x="188"/><use id="k29-4" href="#BR" x="240"/><use id="k29-5" href="#BR" x="292"/><use id="k29-6" href="#BR" x="344"/><use id="k29-7" href="#BR" x="396"/><use id="k29-8" href="#BR" x="448"/><use id="k29-9" href="#DR" x="500"/><use id="k29-10" href="#DR" x="552"/><use id="k29-11" href="#DR" x="604"/></g>
<g id="row30" transform="translate(0,1570)"><use id="k30-1" href="#DL" x="84"/><use id="k30-2" href="#DL" x="136"/><use id="k30-3" href="#BL" x="188"/><use id="k30-4" href="#BL" x="240"/><use id="k30-5" href="#BL" x="292"/><use id="k30-6" href="#BL" x="344"/><use id="k30-7" href="#BL" x="396"/><use id="k30-8" href="#BL" x="448"/><use id="k30-9" href="#BL" x="500"/><use id="k30-10" href="#DL" x="552"/><use id="k30-11" href="#DL" x="604"/></g>
<g id="row31" transform="translate(0,1622)"><use id="k31-1" href="#DR" x="84"/><use id="k31-2" href="#DR" x="136"/><use id="k31-3" href="#DR" x="188"/><use id="k31-4" href="#BR" x="240"/><use id="k31-5" href="#BR" x="292"/><use id="k31-6" href="#BR" x="344"/><use id="k31-7" href="#AR" x="396"/><use id="k31-8" href="#AR" x="448"/><use id="k31-9" href="#BR" x="500"/><use id="k31-10" href="#BR" x="552"/><use id="k31-11" href="#DR" x="604"/></g>
<g id="row32" transform="translate(0,1674)"><use id="k32-1" href="#DL" x="84"/><use id="k32-2" href="#DL" x="136"/><use id="k32-3" href="#DL" x="188"/><use id="k32-4" href="#DL" x="240"/><use id="k32-5" href="#BL" x="292"/><use id="k32-6" href="#BL" x="344"/><use id="k32-7" href="#AL" x="396"/><use id="k32-8" href="#CL" x="448"/><use id="k32-9" href="#BL" x="500"/><use id="k32-10" href="#BL" x="552"/><use id="k32-11" href="#DL" x="604"/></g>
<g id="row33" transform="translate(0,1726)"><use id="k33-1" href="#DR" x="84"/><use id="k33-2" href="#DR" x="136"/><use id="k33-3" href="#DR" x="188"/><use id="k33-4" href="#DR" x="240"/><use id="k33-5" href="#DR" x="292"/><use id="k33-6" href="#BR" x="344"/><use id="k33-7" href="#BR" x="396"/><use id="k33-8" href="#BR" x="448"/><use id="k33-9" href="#BR" x="500"/><use id="k33-10" href="#BR" x="552"/><use id="k33-11" href="#DR" x="604"/></g>
<g id="row34" transform="translate(0,1778)"><use id="k34-1" href="#DL" x="84"/><use id="k34-2" href="#DL" x="136"/><use id="k34-3" href="#DL" x="188"/><use id="k34-4" href="#DL" x="240"/><use id="k34-5" href="#DL" x="292"/><use id="k34-6" href="#DL" x="344"/><use id="k34-7" href="#BL" x="396"/><use id="k34-8" href="#BL" x="448"/><use id="k34-9" href="#BL" x="500"/><use id="k34-10" href="#DL" x="552"/><use id="k34-11" href="#DL" x="604"/></g>
<g id="row35" transform="translate(0,1830)"><use id="k35-1" href="#DR" x="84"/><use id="k35-2" href="#BR" x="136"/><use id="k35-3" href="#BR" x="188"/><use id="k35-4" href="#BR" x="240"/><use id="k35-5" href="#DR" x="292"/><use id="k35-6" href="#DR" x="344"/><use id="k35-7" href="#DR" x="396"/><use id="k35-8" href="#DR" x="448"/><use id="k35-9" href="#DR" x="500"/><use id="k35-10" href="#DR" x="552"/><use id="k35-11" href="#DR" x="604"/></g>
<g id="row36" transform="translate(0,1882)"><use id="k36-1" href="#BL" x="84"/><use id="k36-2" href="#BL" x="136"/><use id="k36-3" href="#BL" x="188"/><use id="k36-4" href="#BL" x="240"/><use id="k36-5" href="#BL" x="292"/><use id="k36-6" href="#DL" x="344"/><use id="k36-7" href="#DL" x="396"/><use id="k36-8" href="#DL" x="448"/><use id="k36-9" href="#DL" x="500"/><use id="k36-10" href="#DL" x="552"/><use id="k36-11" href="#DL" x="604"/></g>
<g id="row37" transform="translate(0,1934)"><use id="k37-1" href="#BR" x="84"/><use id="k37-2" href="#AR" x="136"/><use id="k37-3" href="#AR" x="188"/><use id="k37-4" href="#BR" x="240"/><use id="k37-5" href="#BR" x="292"/><use id="k37-6" href="#DR" x="344"/><use id="k37-7" href="#DR" x="396"/><use id="k37-8" href="#DR" x="448"/><use id="k37-9" href="#DR" x="500"/><use id="k37-10" href="#DR" x="552"/><use id="k37-11" href="#BR" x="604"/></g>
<g id="row38" transform="translate(0,1986)"><use id="k38-1" href="#BL" x="84"/><use id="k38-2" href="#AL" x="136"/><use id="k38-3" href="#CL" x="188"/><use id="k38-4" href="#BL" x="240"/><use id="k38-5" href="#BL" x="292"/><use id="k38-6" href="#DL" x="344"/><use id="k38-7" href="#DL" x="396"/><use id="k38-8" href="#DL" x="448"/><use id="k38-9" href="#DL" x="500"/><use id="k38-10" href="#BL" x="552"/><use id="k38-11" href="#BL" x="604"/></g>
<g id="row39" transform="translate(0,2038)"><use id="k39-1" href="#BR" x="84"/><use id="k39-2" href="#BR" x="136"/><use id="k39-3" href="#BR" x="188"/><use id="k39-4" href="#BR" x="240"/><use id="k39-5" href="#DR" x="292"/><use id="k39-6" href="#DR" x="344"/><use id="k39-7" href="#DR" x="396"/><use id="k39-8" href="#DR" x="448"/><use id="k39-9" href="#BR" x="500"/><use id="k39-10" href="#BR" x="552"/><use id="k39-11" href="#BR" x="604"/></g>
<g id="row40" transform="translate(0,2090)"><use id="k40-1" href="#BL" x="84"/><use id="k40-2" href="#BL" x="136"/><use id="k40-3" href="#BL" x="188"/><use id="k40-4" href="#DL" x="240"/><use id="k40-5" href="#DL" x="292"/><use id="k40-6" href="#DL" x="344"/><use id="k40-7" href="#DL" x="396"/><use id="k40-8" href="#BL" x="448"/><use id="k40-9" href="#BL" x="500"/><use id="k40-10" href="#BL" x="552"/><use id="k40-11" href="#BL" x="604"/></g>
<g id="row41" transform="translate(0,2142)"><use id="k41-1" href="#BR" x="84"/><use id="k41-2" href="#BR" x="136"/><use id="k41-3" href="#BR" x="188"/><use id="k41-4" href="#BR" x="240"/><use id="k41-5" href="#DR" x="292"/><use id="k41-6" href="#DR" x="344"/><use id="k41-7" href="#DR" x="396"/><use id="k41-8" href="#DR" x="448"/><use id="k41-9" href="#BR" x="500"/><use id="k41-10" href="#BR" x="552"/><use id="k41-11" href="#BR" x="604"/></g>
<g id="row42" transform="translate(0,2194)"><use id="k42-1" href="#BL" x="84"/><use id="k42-2" href="#AL" x="136"/><use id="k42-3" href="#AL" x="188"/><use id="k42-4" href="#BL" x="240"/><use id="k42-5" href="#BL" x="292"/><use id="k42-6" href="#DL" x="344"/><use id="k42-7" href="#DL" x="396"/><use id="k42-8" href="#DL" x="448"/><use id="k42-9" href="#DL" x="500"/><use id="k42-10" href="#BL" x="552"/><use id="k42-11" href="#BL" x="604"/></g>
<g id="row43" transform="translate(0,2246)"><use id="k43-1" href="#BR" x="84"/><use id="k43-2" href="#AR" x="136"/><use id="k43-3" href="#CR" x="188"/><use id="k43-4" href="#BR" x="240"/><use id="k43-5" href="#BR" x="292"/><use id="k43-6" href="#DR" x="344"/><use id="k43-7" href="#DR" x="396"/><use id="k43-8" href="#DR" x="448"/><use id="k43-9" href="#DR" x="500"/><use id="k43-10" href="#DR" x="552"/><use id="k43-11" href="#BR" x="604"/></g>
<g id="row44" transform="translate(0,2298)"><use id="k44-1" href="#BL" x="84"/><use id="k44-2" href="#BL" x="136"/><use id="k44-3" href="#BL" x="188"/><use id="k44-4" href="#BL" x="240"/><use id="k44-5" href="#BL" x="292"/><use id="k44-6" href="#DL" x="344"/><use id="k44-7" href="#DL" x="396"/><use id="k44-8" href="#DL" x="448"/><use id="k44-9" href="#DL" x="500"/><use id="k44-10" href="#DL" x="552"/><use id="k44-11" href="#DL" x="604"/></g>
<g id="row45" transform="translate(0,2350)"><use id="k45-1" href="#DR" x="84"/><use id="k45-2" href="#BR" x="136"/><use id="k45-3" href="#BR" x="188"/><use id="k45-4" href="#BR" x="240"/><use id="k45-5" href="#DR" x="292"/><use id="k45-6" href="#DR" x="344"/><use id="k45-7" href="#DR" x="396"/><use id="k45-8" href="#DR" x="448"/><use id="k45-9" href="#DR" x="500"/><use id="k45-10" href="#DR" x="552"/><use id="k45-11" href="#DR" x="604"/></g>
<g id="row46" transform="translate(0,2402)"><use id="k46-1" href="#DL" x="84"/><use id="k46-2" href="#DL" x="136"/><use id="k46-3" href="#DL" x="188"/><use id="k46-4" href="#DL" x="240"/><use id="k46-5" href="#DL" x="292"/><use id="k46-6" href="#DL" x="344"/><use id="k46-7" href="#BL" x="396"/><use id="k46-8" href="#BL" x="448"/><use id="k46-9" href="#BL" x="500"/><use id="k46-10" href="#DL" x="552"/><use id="k46-11" href="#DL" x="604"/></g>
<g id="row47" transform="translate(0,2454)"><use id="k47-1" href="#DR" x="84"/><use id="k47-2" href="#DR" x="136"/><use id="k47-3" href="#DR" x="188"/><use id="k47-4" href="#DR" x="240"/><use id="k47-5" href="#DR" x="292"/><use id="k47-6" href="#BR" x="344"/><use id="k47-7" href="#BR" x="396"/><use id="k47-8" href="#BR" x="448"/><use id="k47-9" href="#BR" x="500"/><use id="k47-10" href="#BR" x="552"/><use id="k47-11" href="#DR" x="604"/></g>
<g id="row48" transform="translate(0,2506)"><use id="k48-1" href="#DL" x="84"/><use id="k48-2" href="#DL" x="136"/><use id="k48-3" href="#DL" x="188"/><use id="k48-4" href="#DL" x="240"/><use id="k48-5" href="#BL" x="292"/><use id="k48-6" href="#BL" x="344"/><use id="k48-7" href="#AL" x="396"/><use id="k48-8" href="#AL" x="448"/><use id="k48-9" href="#BL" x="500"/><use id="k48-10" href="#BL" x="552"/><use id="k48-11" href="#DL" x="604"/></g>
<g id="row49" transform="translate(0,2558)"><use id="k49-1" href="#DR" x="84"/><use id="k49-2" href="#DR" x="136"/><use id="k49-3" href="#DR" x="188"/><use id="k49-4" href="#BR" x="240"/><use id="k49-5" href="#BR" x="292"/><use id="k49-6" href="#BR" x="344"/><use id="k49-7" href="#AR" x="396"/><use id="k49-8" href="#CR" x="448"/><use id="k49-9" href="#BR" x="500"/><use id="k49-10" href="#BR" x="552"/><use id="k49-11" href="#DR" x="604"/></g>
<g id="row50" transform="translate(0,2610)"><use id="k50-1" href="#DL" x="84"/><use id="k50-2" href="#DL" x="136"/><use id="k50-3" href="#BL" x="188"/><use id="k50-4" href="#BL" x="240"/><use id="k50-5" href="#BL" x="292"/><use id="k50-6" href="#BL" x="344"/><use id="k50-7" href="#BL" x="396"/><use id="k50-8" href="#BL" x="448"/><use id="k50-9" href="#BL" x="500"/><use id="k50-10" href="#DL" x="552"/><use id="k50-11" href="#DL" x="604"/></g>
<g id="row51" transform="translate(0,2662)"><use id="k51-1" href="#DR" x="84"/><use id="k51-2" href="#BR" x="136"/><use id="k51-3" href="#BR" x="188"/><use id="k51-4" href="#BR" x="240"/><use id="k51-5" href="#BR" x="292"/><use id="k51-6" href="#BR" x="344"/><use id="k51-7" href="#BR" x="396"/><use id="k51-8" href="#BR" x="448"/><use id="k51-9" href="#DR" x="500"/><use id="k51-10" href="#DR" x="552"/><use id="k51-11" href="#DR" x="604"/></g>
<g id="row52" transform="translate(0,2714)"><use id="k52-1" href="#DL" x="84"/><use id="k52-2" href="#DL" x="136"/><use id="k52-3" href="#BL" x="188"/><use id="k52-4" href="#BL" x="240"/><use id="k52-5" href="#BL" x="292"/><use id="k52-6" href="#BL" x="344"/><use id="k52-7" href="#BL" x="396"/><use id="k52-8" href="#BL" x="448"/><use id="k52-9" href="#BL" x="500"/><use id="k52-10" href="#DL" x="552"/><use id="k52-11" href="#DL" x="604"/></g>
<g id="row53" transform="translate(0,2766)"><use id="k53-1" href="#DR" x="84"/><use id="k53-2" href="#DR" x="136"/><use id="k53-3" href="#DR" x="188"/><use id="k53-4" href="#BR" x="240"/><use id="k53-5" href="#BR" x="292"/><use id="k53-6" href="#BR" x="344"/><use id="k53-7" href="#AR" x="396"/><use id="k53-8" href="#AR" x="448"/><use id="k53-9" href="#BR" x="500"/><use id="k53-10" href="#BR" x="552"/><use id="k53-11" href="#DR" x="604"/></g>
<g id="row54" transform="translate(0,2818)"><use id="k54-1" href="#DL" x="84"/><use id="k54-2" href="#DL" x="136"/><use id="k54-3" href="#DL" x="188"/><use id="k54-4" href="#DL" x="240"/><use id="k54-5" href="#BL" x="292"/><use id="k54-6" href="#BL" x="344"/><use id="k54-7" href="#AL" x="396"/><use id="k54-8" href="#CL" x="448"/><use id="k54-9" href="#BL" x="500"/><use id="k54-10" href="#BL" x="552"/><use id="k54-11" href="#DL" x="604"/></g>
<g id="row55" transform="translate(0,2870)"><use id="k55-1" href="#DR" x="84"/><use id="k55-2" href="#DR" x="136"/><use id="k55-3" href="#DR" x="188"/><use id="k55-4" href="#DR" x="240"/><use id="k55-5" href="#DR" x="292"/><use id="k55-6" href="#BR" x="344"/><use id="k55-7" href="#BR" x="396"/><use id="k55-8" href="#BR" x="448"/><use id="k55-9" href="#BR" x="500"/><use id="k55-10" href="#BR" x="552"/><use id="k55-11" href="#DR" x="604"/></g>
<g id="row56" transform="translate(0,2922)"><use id="k56-1" href="#DL" x="84"/><use id="k56-2" href="#DL" x="136"/><use id="k56-3" href="#DL" x="188"/><use id="k56-4" href="#DL" x="240"/><use id="k56-5" href="#DL" x="292"/><use id="k56-6" href="#DL" x="344"/><use id="k56-7" href="#BL" x="396"/><use id="k56-8" href="#BL" x="448"/><use id="k56-9" href="#BL" x="500"/><use id="k56-10" href="#DL" x="552"/><use id="k56-11" href="#DL" x="604"/></g>
<g id="row57" transform="translate(0,2974)"><use id="k57-1" href="#DR" x="84"/><use id="k57-2" href="#DR" x="136"/><use id="k57-3" href="#DR" x="188"/><use id="k57-4" href="#DR" x="240"/><use id="k57-5" href="#DR" x="292"/><use id="k57-6" href="#DR" x="344"/><use id="k57-7" href="#DR" x="396"/><use id="k57-8" href="#DR" x="448"/><use id="k57-9" href="#DR" x="500"/><use id="k57-10" href="#DR" x="552"/><use id="k57-11" href="#DR" x="604"/></g>
</g>
<text id="watermark" x="346" y="1549" text-anchor="middle" font-family="Liberation Sans, Arial, sans-serif" font-weight="bold" font-size="16" fill="#333" textLength="154" lengthAdjust="spacingAndGlyphs">BRACELETBOOK.COM</text>
</svg>
